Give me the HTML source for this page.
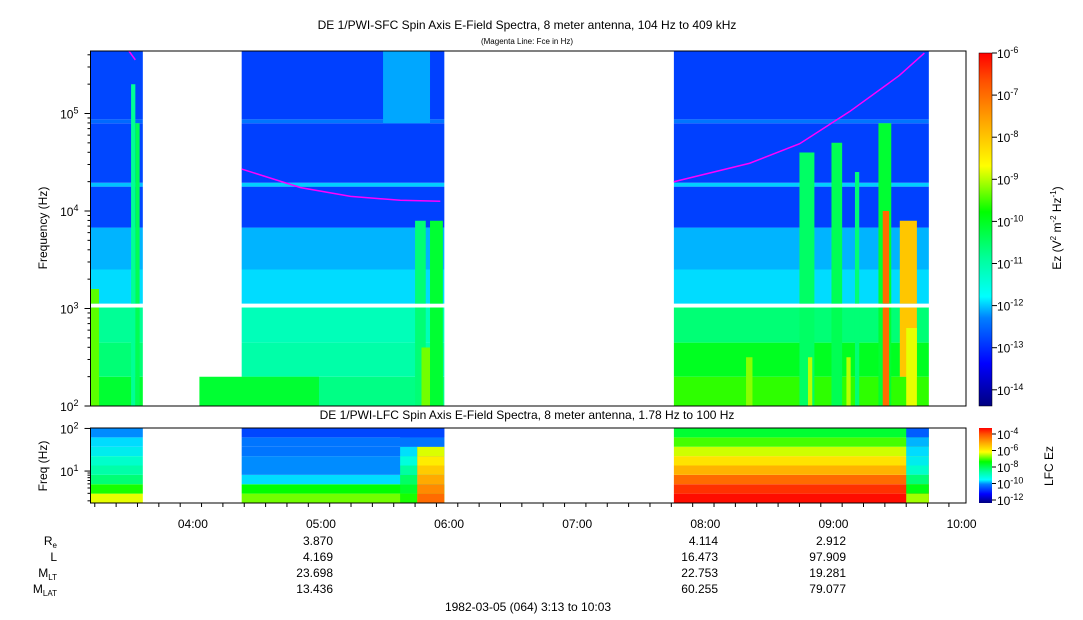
<!DOCTYPE html>
<html><head><meta charset="utf-8">
<style>
html,body{margin:0;padding:0;background:#fff;}
svg{display:block;font-family:"Liberation Sans",sans-serif;}
</style></head>
<body>
<svg id="chart" width="1083" height="620" viewBox="0 0 1083 620" xmlns="http://www.w3.org/2000/svg">
<defs>
<linearGradient id="cbar" x1="0" y1="1" x2="0" y2="0">
<stop offset="0" stop-color="#00007f"/><stop offset="0.12" stop-color="#0000ff"/>
<stop offset="0.25" stop-color="#0080ff"/><stop offset="0.31" stop-color="#00ffff"/>
<stop offset="0.42" stop-color="#00ff99"/><stop offset="0.55" stop-color="#00ff00"/>
<stop offset="0.63" stop-color="#a0ff00"/><stop offset="0.68" stop-color="#ffff00"/>
<stop offset="0.80" stop-color="#ffaa00"/><stop offset="0.92" stop-color="#ff5000"/>
<stop offset="1" stop-color="#ff0000"/></linearGradient>
</defs>
<g id="upper-data"></g>
<g id="lower-data"></g>
<g id="fce"></g>
<g id="axes"></g>
<text x="527" y="29" font-size="12" text-anchor="middle">DE 1/PWI-SFC  Spin Axis E-Field Spectra, 8 meter antenna, 104 Hz to 409 kHz</text>
<text x="527" y="44" font-size="8" text-anchor="middle">(Magenta Line: Fce in Hz)</text>
<text x="527" y="419" font-size="12" text-anchor="middle">DE 1/PWI-LFC  Spin Axis E-Field Spectra, 8 meter antenna, 1.78 Hz to 100 Hz</text>
<text transform="translate(47,228) rotate(-90)" font-size="12" text-anchor="middle">Frequency (Hz)</text>
<text transform="translate(47,466) rotate(-90)" font-size="12" text-anchor="middle">Freq (Hz)</text>
<text transform="translate(1061,228) rotate(-90)" font-size="12" text-anchor="middle">Ez (V<tspan font-size="8" dy="-5">2</tspan><tspan dy="5"> m</tspan><tspan font-size="8" dy="-5">-2</tspan><tspan dy="5"> Hz</tspan><tspan font-size="8" dy="-5">-1</tspan><tspan dy="5">)</tspan></text>
<text transform="translate(1053,466) rotate(-90)" font-size="12" text-anchor="middle">LFC Ez</text>
<rect x="979" y="53" width="13" height="353" fill="url(#cbar)" stroke="#000" stroke-width="0.5"/>
<rect x="979" y="428" width="13" height="75" fill="url(#cbar)"/>
<text x="528" y="611" font-size="12" text-anchor="middle">1982-03-05 (064) 3:13 to 10:03</text>
<g font-size="12" text-anchor="end">
<text x="57" y="545">R<tspan font-size="8" dy="3">e</tspan></text>
<text x="57" y="561">L</text>
<text x="57" y="577">M<tspan font-size="8" dy="3">LT</tspan></text>
<text x="57" y="593">M<tspan font-size="8" dy="3">LAT</tspan></text>
</g>
<g font-size="12" text-anchor="end">
<text x="333" y="545">3.870</text><text x="333" y="561">4.169</text><text x="333" y="577">23.698</text><text x="333" y="593">13.436</text>
<text x="718" y="545">4.114</text><text x="718" y="561">16.473</text><text x="718" y="577">22.753</text><text x="718" y="593">60.255</text>
<text x="846" y="545">2.912</text><text x="846" y="561">97.909</text><text x="846" y="577">19.281</text><text x="846" y="593">79.077</text>
</g>
</svg>
<script>
// ---- data ----
const segStarts = [193, 263.8, 466.2];   // minutes since 00:00
const segEnds   = [217.5, 358.7, 585.6];
const bandLo = [2.0, 2.3, 2.65, 3.05, 3.4, 3.83, 4.25, 4.29, 4.9, 4.94];
const bandHi = [2.3, 2.65, 3.01, 3.4, 3.83, 4.25, 4.29, 4.9, 4.94, 5.64];
const seg1Levels = [-10.6, -11.0, -11.2, -12.0, -12.3, -13.2, -12.2, -13.2, -12.9, -13.2];
const seg2Levels = [-11.1, -11.3, -11.4, -12.0, -12.3, -13.25, -12.1, -13.25, -12.8, -13.25];
const seg3Levels = [-10.1, -10.5, -11.0, -12.0, -12.3, -13.25, -12.1, -13.25, -12.8, -13.25];
// events: start, end (min), logLo, logHi, level
const evStart = [193, 212, 214, 244, 330, 345, 348, 352, 500, 525, 540, 551, 562, 564, 572, 575, 529, 547];
const evEnd   = [197, 214, 216, 300, 352, 350, 358, 358, 503, 532, 545, 553, 568, 567, 580, 580, 531, 549];
const evLo    = [2.0, 2.0, 2.0, 2.0, 4.9, 2.0, 2.0, 2.0, 2.0, 2.0, 2.0, 2.0, 2.0, 2.0, 2.3, 2.0, 2.0, 2.0];
const evHi    = [3.2, 5.3, 4.9, 2.3, 5.64, 3.9, 2.6, 3.9, 2.5, 4.6, 4.7, 4.4, 4.9, 4.0, 3.9, 2.8, 2.5, 2.5];
const evLevel = [-9.9, -11.2, -10.8, -10.6, -12.4, -11.0, -9.8, -10.6, -9.7, -10.9, -10.8, -11.0, -10.6, -7.6, -8.6, -9.3, -9.5, -9.5];
// LFC rows bottom->top (colour-scale units, log10)
const lfcSeg1 = [-9.3, -10.2, -11.0, -11.3, -11.5, -11.8, -12.0, -12.6];
const lfcSeg2 = [-9.8, -10.3, -12.0, -12.6, -12.6, -12.8, -12.8, -13.2];
const lfcSeg3 = [-6.2, -6.8, -7.6, -8.4, -8.9, -9.4, -10.0, -10.6];
const lfcSeg3End = [-9.6, -10.4, -11.0, -11.5, -11.8, -12.0, -12.3, -13.0];
const lfcEvStart = [338, 346, 575];
const lfcEvEnd   = [346, 358.7, 585.6];
const lfcEvLevel = [-10.2, -7.6, 0];
// Fce magenta line
const fceT2 = [263.8, 291.4, 314.8, 338.1, 356.8];
const fceF2 = [4.43, 4.24, 4.15, 4.11, 4.10];
const fceT3 = [466.2, 501.7, 525.1, 548.5, 571.8, 583.5];
const fceF3 = [4.30, 4.49, 4.69, 5.02, 5.39, 5.62];
const fceT1 = [211, 214];
const fceF1 = [5.64, 5.55];
const xTickLabels = ["04:00","05:00","06:00","07:00","08:00","09:00","10:00"];
const xTickTimes = [240, 300, 360, 420, 480, 540, 600];

// ---- scales ----
const NS="http://www.w3.org/2000/svg";
const X0=90.5, X1=966, T0=193, T1=603;
const xs = t => X0 + (t - T0) * (X1 - X0) / (T1 - T0);
const ys = lf => 406 - (lf - 2) * 97.5;
const yl = lf => 503 - (lf - 0.25) * 42.6;
const stops=[[-14.4,[0,0,127]],[-13.6,[0,0,255]],[-13.25,[0,64,255]],[-12.6,[0,140,255]],[-12.0,[0,220,255]],[-11.6,[0,255,220]],[-11.2,[0,255,150]],[-10.3,[0,255,0]],[-9.6,[160,255,0]],[-9.2,[255,255,0]],[-8.3,[255,170,0]],[-7.3,[255,80,0]],[-6,[255,0,0]]];
function col(v){
  if(v<=stops[0][0]) return 'rgb('+stops[0][1]+')';
  for(let i=1;i<stops.length;i++){ if(v<=stops[i][0]){const a=stops[i-1],b=stops[i],f=(v-a[0])/(b[0]-a[0]);
    return 'rgb('+a[1].map((c,k)=>Math.round(c+(b[1][k]-c)*f)).join(',')+')';}}
  return 'rgb(255,0,0)';
}
function rect(g,x,y,w,h,fill,name){const r=document.createElementNS(NS,'rect');
  r.setAttribute('x',x);r.setAttribute('y',y);r.setAttribute('width',w);r.setAttribute('height',h);r.setAttribute('fill',fill);
  
  
  g.appendChild(r);return r;}

const up=document.getElementById('upper-data');
const segLevels=[seg1Levels,seg2Levels,seg3Levels];
segStarts.forEach((s,i)=>{
  const x=xs(s), w=xs(segEnds[i])-x;
  bandLo.forEach((lo,b)=>{
    const y=ys(bandHi[b]), h=ys(lo)-y;
    rect(up,x,Math.max(51,y),w,h-(Math.max(51,y)-y),col(segLevels[i][b]),'cell');
  });
});
evStart.forEach((s,i)=>{
  const x=xs(s), w=xs(evEnd[i])-x;
  const hi=evHi[i], lo=evLo[i];
  const parts = (lo<3.03 && hi>3.01) ? [[lo,3.01],[3.05,hi]] : [[lo,hi]];
  parts.forEach(p=>{const y=Math.max(51,ys(p[1])); rect(up,x,y,w,ys(p[0])-y,col(evLevel[i]),'event-cell');});
});
const lw=document.getElementById('lower-data');
const lfcSegs=[lfcSeg1,lfcSeg2,lfcSeg3];
const rowH=(503-428)/8;
segStarts.forEach((s,i)=>{
  const x=xs(s), w=xs(segEnds[i])-x;
  lfcSegs[i].forEach((v,r)=>rect(lw,x,503-(r+1)*rowH,w,rowH,col(v),'lfc-cell'));
});
lfcEvStart.forEach((s,i)=>{
  const x=xs(s), w=xs(lfcEvEnd[i])-x;
  const rows = i===2 ? lfcSeg3End : lfcSeg2.map((v,r)=> r<6 ? lfcEvLevel[i]-r*0.35 : v);
  rows.forEach((v,r)=>rect(lw,x,503-(r+1)*rowH,w,rowH,col(v),'lfc-event-cell'));
});
const fg=document.getElementById('fce');
[[fceT1,fceF1],[fceT2,fceF2],[fceT3,fceF3]].forEach(([T,F])=>{
  const p=document.createElementNS(NS,'polyline');
  p.setAttribute('points',T.map((t,k)=>xs(t)+','+ys(F[k])).join(' '));
  p.setAttribute('fill','none');p.setAttribute('stroke','#ff00ff');p.setAttribute('stroke-width','1.5');
  
  
  fg.appendChild(p);
});

// ---- axes ----
const ax=document.getElementById('axes');
function line(x1,y1,x2,y2,name){const l=document.createElementNS(NS,'line');
  l.setAttribute('x1',x1);l.setAttribute('y1',y1);l.setAttribute('x2',x2);l.setAttribute('y2',y2);l.setAttribute('stroke','#000');
  
  
  ax.appendChild(l);}
function txt(x,y,s,anchor,sup,name){const t=document.createElementNS(NS,'text');
  t.setAttribute('x',x);t.setAttribute('y',y);t.setAttribute('font-size','12');t.setAttribute('text-anchor',anchor);
  t.textContent=s;
  if(sup){const sp=document.createElementNS(NS,'tspan');sp.setAttribute('font-size','9');sp.setAttribute('dy','-5');sp.textContent=sup;t.appendChild(sp);}
  
  
  ax.appendChild(t);}
const frame=(y0,y1)=>{const r=document.createElementNS(NS,'rect');r.setAttribute('x',X0);r.setAttribute('y',y0);r.setAttribute('width',X1-X0);r.setAttribute('height',y1-y0);r.setAttribute('fill','none');r.setAttribute('stroke','#000');
  
  
  ax.appendChild(r);};
frame(51,406); frame(428,503);
[2,3,4,5].forEach(d=>{
  line(X0-6,ys(d),X0,ys(d),'y-major-tick');
  txt(X0-12,ys(d)+5,'10',"end",String(d),'y-tick-label');
  for(let m=2;m<10;m++){const lf=d+Math.log10(m); if(ys(lf)>51) line(X0-3,ys(lf),X0,ys(lf),'y-minor-tick');}
});
[1,2].forEach(d=>{
  line(X0-6,yl(d),X0,yl(d),'lfc-y-major-tick');
  txt(X0-12,yl(d)+5,'10',"end",String(d),'lfc-y-tick-label');
});
[2,3,4,5,6,7,8,9].forEach(m=>{const lf=Math.log10(m); if(yl(lf)<503) line(X0-3,yl(lf),X0,yl(lf),'lfc-y-minor-tick');});
for(let t=195;t<=603;t+=10){const major=(t%60===0); line(xs(t),503,xs(t),major?510:507,'x-tick');}
xTickTimes.forEach((t,i)=>txt(xs(t)+2,528,xTickLabels[i],"middle",null,'x-tick-label'));
for(let e=-6;e>=-14;e--){const y=53+(-6-e)*42.1; line(992,y,997,y,'colorbar-tick'); txt(997,y+5,'10',"start",String(e),'colorbar-label');}
[-4,-6,-8,-10,-12].forEach((e,i)=>{const y=434+i*16.5; line(992,y,996,y,'lfc-colorbar-tick'); txt(997,y+5,'10',"start",String(e),'lfc-colorbar-label');});
</script>
</body></html>
